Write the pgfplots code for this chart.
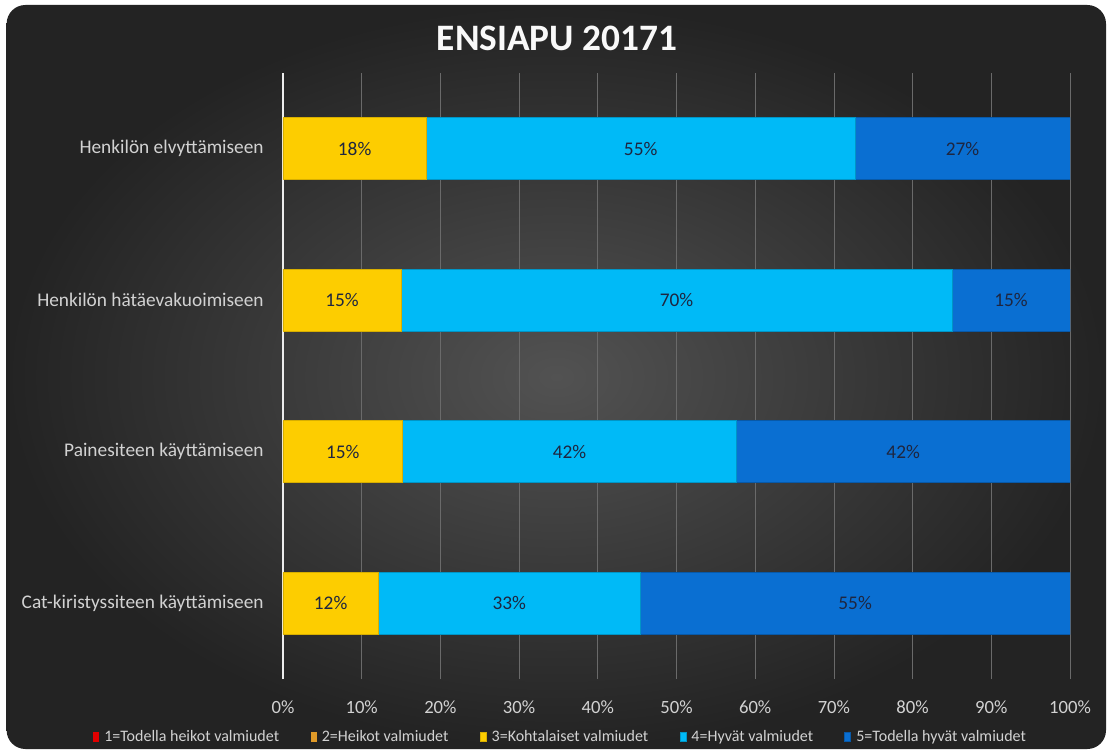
\documentclass[border=0pt]{standalone}
\usepackage{pgfplots}
\pgfplotsset{compat=1.18}
\usepackage{fontspec}
\setmainfont{Carlito}
\definecolor{bgc}{HTML}{525252}
\definecolor{bge}{HTML}{232323}
\definecolor{ylw}{HTML}{FDCD00}
\definecolor{cyn}{HTML}{00BAF7}
\definecolor{blu}{HTML}{0A6FD2}
\definecolor{lbl}{HTML}{1E2640}
\definecolor{tickc}{HTML}{D2D2D2}
\definecolor{gridc}{HTML}{6A6A6A}
\definecolor{redc}{HTML}{E00000}
\definecolor{orc}{HTML}{E09A28}
\begin{document}
\begin{tikzpicture}
\path[use as bounding box] (0,0) rectangle (831pt,563.25pt);
\fill[white] (0,0) rectangle (831pt,563.25pt);
\shade[inner color=bgc, outer color=bge, rounded corners=14pt] (5pt,1.5pt) rectangle (829.5pt,559.5pt);
\node[font=\fontsize{28}{31}\selectfont\bfseries, text=white!95!gray] at (417.75pt,534.75pt) {ENSIAPU 20171};
\begin{axis}[
  at={(212.25pt,54pt)}, anchor=south west,
  scale only axis, width=590.25pt, height=454.5pt,
  xbar stacked, bar width=46.5pt,
  xmin=0, xmax=100, ymin=-0.5, ymax=3.5,
  ytick={0,1,2,3},
  yticklabels={Cat-kiristyssiteen käyttämiseen, Painesiteen käyttämiseen, Henkilön hätäevakuoimiseen, Henkilön elvyttämiseen},
  xtick={0,10,...,100},
  xticklabel={\pgfmathprintnumber{\tick}\%},
  /pgf/number format/assume math mode=true,
  major tick length=0pt,
  axis line style={draw=none},
  xmajorgrids, grid style={gridc, line width=0.6pt},
  extra x ticks={0}, extra x tick labels={}, extra x tick style={grid style={white!85!gray, line width=0.8pt}},
  xticklabel style={font=\fontsize{14}{16}\selectfont, text=tickc, yshift=-13pt},
  yticklabel style={font=\fontsize{14.5}{16}\selectfont, text=tickc, xshift=-11pt},
  legend columns=-1,
  legend style={at={(0.353,-0.0955)}, anchor=center, draw=none, fill=none,
    font=\fontsize{12}{14}\selectfont, text=tickc,
    /tikz/every odd column/.style={column sep=2pt},
    /tikz/every even column/.style={column sep=21.5pt}},
  legend image code/.code={\fill[#1] (0pt,-3.5pt) rectangle (4.5pt,3.5pt);},
]
\addplot[fill=redc, draw=none] coordinates {(0,0) (0,1) (0,2) (0,3)};
\addplot[fill=orc, draw=none] coordinates {(0,0) (0,1) (0,2) (0,3)};
\addplot[fill=ylw, draw=ylw!85!black, line width=0.4pt] coordinates {(12.1,0) (15.2,1) (15,2) (18.2,3)};
\addplot[fill=cyn, draw=cyn!80!black, line width=0.4pt] coordinates {(33.3,0) (42.4,1) (70,2) (54.5,3)};
\addplot[fill=blu, draw=blu!80!black, line width=0.4pt] coordinates {(54.6,0) (42.4,1) (15,2) (27.3,3)};
\legend{1=Todella heikot valmiudet, 2=Heikot valmiudet, 3=Kohtalaiset valmiudet, 4=Hyvät valmiudet, 5=Todella hyvät valmiudet}
\end{axis}
\begin{axis}[
  at={(212.25pt,54pt)}, anchor=south west,
  scale only axis, width=590.25pt, height=454.5pt,
  xmin=0, xmax=100, ymin=-0.5, ymax=3.5, hide axis,
]
\addplot[draw=none, mark=none, nodes near coords, point meta=explicit symbolic,
  every node near coord/.append style={anchor=center, font=\fontsize{14.5}{16}\selectfont, text=lbl}]
 coordinates {
 (9.1,3) [18\%] (45.45,3) [55\%] (86.35,3) [27\%]
 (7.5,2) [15\%] (50,2) [70\%] (92.5,2) [15\%]
 (7.6,1) [15\%] (36.4,1) [42\%] (78.8,1) [42\%]
 (6.05,0) [12\%] (28.75,0) [33\%] (72.7,0) [55\%]
 };
\end{axis}
\end{tikzpicture}
\end{document}
